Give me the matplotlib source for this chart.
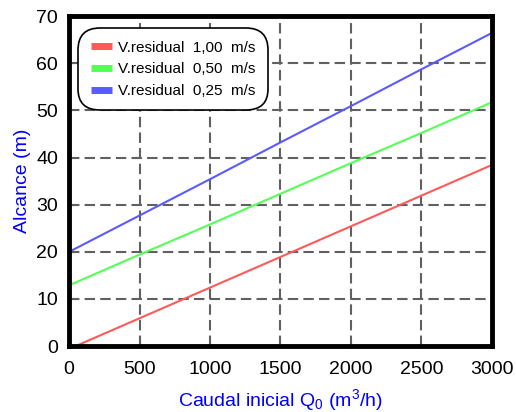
import matplotlib
matplotlib.use("Agg")
import matplotlib.pyplot as plt

plt.rcParams['font.family'] = ['Liberation Sans', 'DejaVu Sans']
plt.rcParams['mathtext.fontset'] = 'custom'
plt.rcParams['mathtext.rm'] = 'Liberation Sans'
plt.rcParams['mathtext.it'] = 'Liberation Sans'

# caudal inicial (m3/h)
caudal = [0, 500, 1000, 1500, 2000, 2500, 3000]
# alcance (m) for each residual velocity
alc_100 = [-0.6, 5.9, 12.4, 18.9, 25.4, 31.9, 38.4]
alc_050 = [12.9, 19.4, 25.8, 32.3, 38.8, 45.2, 51.7]
alc_025 = [20.0, 27.7, 35.4, 43.2, 50.9, 58.7, 66.4]
labels = ['V.residual  1,00  m/s', 'V.residual  0,50  m/s', 'V.residual  0,25  m/s']

fig = plt.figure(figsize=(5.16, 4.12), dpi=100)
ax = fig.add_axes([0.134, 0.160, 0.819, 0.801])

ax.plot(caudal, alc_100, color='#ff5a5a', lw=1.5, label=labels[0])
ax.plot(caudal, alc_050, color='#55ff55', lw=1.5, label=labels[1])
ax.plot(caudal, alc_025, color='#5a5aff', lw=1.5, label=labels[2])

ax.set_xlim(0, 3000)
ax.set_ylim(0, 70)
ax.set_xticks(range(0, 3001, 500))
ax.set_yticks(range(0, 71, 10))
ax.grid(True, color='#606060', linestyle=(0, (5, 2.5)), lw=1.5)
ax.tick_params(direction='in', length=4, labelsize=14, color='#606060')
ax.tick_params(axis='x', pad=11)
ax.tick_params(axis='y', pad=8)

for s in ax.spines.values():
    s.set_linewidth(3.5)
    s.set_zorder(5)

ax.set_xlabel('Caudal inicial Q$_0$ (m$^3$/h)', color='blue', fontsize=14, labelpad=6)
ax.set_ylabel('Alcance (m)', color='blue', fontsize=14, labelpad=4)

leg = ax.legend(loc='upper left', bbox_to_anchor=(0.022, 0.963), borderaxespad=0,
                fontsize=11, handlelength=1.4, handleheight=0.6, handletextpad=0.4,
                labelspacing=0.5, borderpad=0.8, framealpha=1, fancybox=True)
leg.get_frame().set_edgecolor('black')
leg.get_frame().set_linewidth(1.2)
leg.get_frame().set_boxstyle('round', pad=0, rounding_size=1.4)
for h in leg.get_lines():
    h.set_linewidth(5)
    h.set_solid_capstyle('butt')

fig.savefig('out.png', dpi=100)
